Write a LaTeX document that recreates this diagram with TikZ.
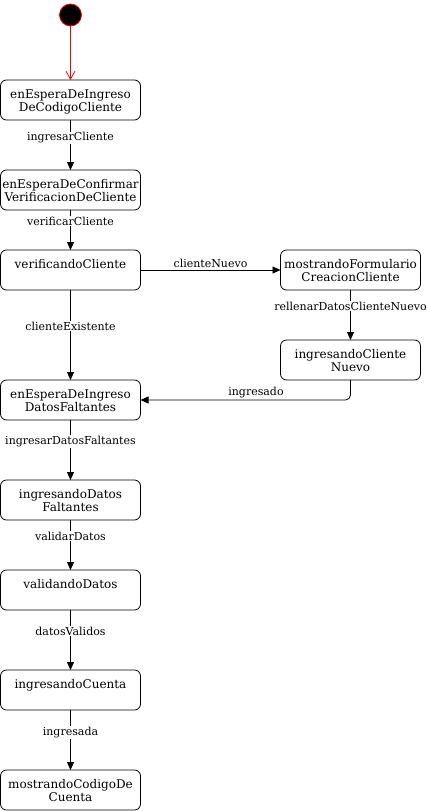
\documentclass[tikz,border=0pt]{standalone}
\usepackage{fontspec}
\setmainfont{DejaVu Serif}
\usepackage{xcolor}
\usetikzlibrary{arrows.meta,positioning}
\definecolor{inicioborde}{RGB}{255, 0, 0}
\newcommand{\estado}[1]{\parbox[c][40pt][t]{138pt}{\centering\fontsize{12}{13}\selectfont\rule{0pt}{18.5pt}#1}}

\begin{document}
\begin{tikzpicture}[x=1pt, y=1pt, node distance=50pt,
    caja/.style={draw, rounded corners=6pt, minimum width=140pt, minimum height=40pt, inner sep=0pt, outer sep=0pt, line width=0.8pt},
    inicio/.style={circle, fill=black, draw=inicioborde, minimum size=22pt, inner sep=0pt, line width=0.8pt},
    linea/.style={draw, line width=0.8pt, -{Triangle[length=8pt,width=7pt]}},
    etiqueta/.style={fill=white, inner sep=1pt, font=\fontsize{11}{12}\selectfont}]
    \useasboundingbox (0,0) rectangle (427,-811);
    % estados
    \node[inicio] (ini) at (70.5,-15) {};
    \node[caja] (espCodigo) at (70.5,-100) {\estado{enEsperaDeIngreso\\DeCodigoCliente}};
    \node[caja, below=of espCodigo] (espVerif) {\estado{enEsperaDeConfirmar\\VerificacionDeCliente}};
    \node[caja, below=40pt of espVerif] (verifCliente) {\estado{verificandoCliente}};
    \node[caja, below=90pt of verifCliente] (espDatos) {\estado{enEsperaDeIngreso\\DatosFaltantes}};
    \node[caja, below=60pt of espDatos] (ingDatos) {\estado{ingresandoDatos\\Faltantes}};
    \node[caja, below=of ingDatos] (valDatos) {\estado{validandoDatos}};
    \node[caja, below=60pt of valDatos] (ingCuenta) {\estado{ingresandoCuenta}};
    \node[caja, below=60pt of ingCuenta] (mostCodigo) {\estado{mostrandoCodigoDe\\Cuenta}};
    \node[caja, right=140pt of verifCliente] (mostForm) {\estado{mostrandoFormulario\\CreacionCliente}};
    \node[caja, below=of mostForm] (ingNuevo) {\estado{ingresandoCliente\\Nuevo}};
    % transiciones
    \draw[inicioborde, line width=0.8pt, -{Straight Barb[length=8pt,width=9pt]}] (ini) -- (espCodigo);
    \draw[linea] (espCodigo) -- node[etiqueta, pos=0.36] {ingresarCliente} (espVerif);
    \draw[linea] (espVerif) -- node[etiqueta, pos=0.28] {verificarCliente} (verifCliente);
    \draw[linea] (verifCliente) -- node[etiqueta, above=1pt] {clienteNuevo} (mostForm);
    \draw[linea] (verifCliente) -- node[etiqueta, pos=0.4] {clienteExistente} (espDatos);
    \draw[linea] (mostForm) -- node[etiqueta, pos=0.32] {rellenarDatosClienteNuevo} (ingNuevo);
    \draw[linea, rounded corners=5pt] (ingNuevo) |- node[etiqueta, pos=0.725, above=1pt] {ingresado} (espDatos);
    \draw[linea] (espDatos) -- node[etiqueta, pos=0.36] {ingresarDatosFaltantes} (ingDatos);
    \draw[linea] (ingDatos) -- node[etiqueta, pos=0.32] {validarDatos} (valDatos);
    \draw[linea] (valDatos) -- node[etiqueta, pos=0.35] {datosValidos} (ingCuenta);
    \draw[linea] (ingCuenta) -- node[etiqueta, pos=0.37] {ingresada} (mostCodigo);
\end{tikzpicture}
\end{document}
